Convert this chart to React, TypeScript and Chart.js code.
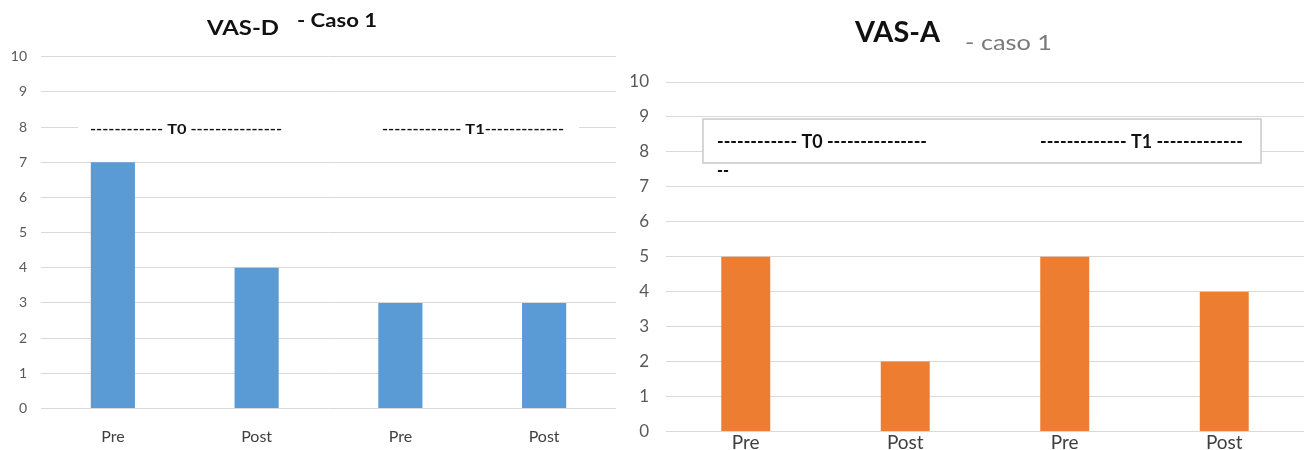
import { useEffect, useRef } from "react";
import { Chart, registerables } from "chart.js";

Chart.register(...registerables);
Chart.defaults.font.family = "Lato, 'Noto Sans', sans-serif";

// Category labels shared by both panels
const categories = ["Pre", "Post", "Pre", "Post"];

// VAS-D scores (caso 1)
const vasDValues = [7, 4, 3, 3];
// VAS-A scores (caso 1)
const vasAValues = [5, 2, 5, 4];

// Value axis range
const yMin = 0;
const yMax = 10;
const yStep = 1;

// Period markers written across the plot
const vasDPeriods = ["------------ T0 ---------------", "------------- T1-------------"];
const vasAPeriods = ["------------ T0 ---------------", "------------- T1 -------------", "--"];

// Draws a string stretched horizontally to a given width
function fitText(
  ctx: CanvasRenderingContext2D,
  text: string,
  x: number,
  baseline: number,
  width: number,
  font: string,
  color: string
) {
  ctx.save();
  ctx.font = font;
  ctx.fillStyle = color;
  ctx.textAlign = "left";
  ctx.textBaseline = "alphabetic";
  const w = ctx.measureText(text).width || 1;
  ctx.translate(x, baseline);
  ctx.scale(width / w, 1);
  ctx.fillText(text, 0, 0);
  ctx.restore();
}

type PanelSpec = {
  width: number;
  left: number;
  values: number[];
  color: string;
  padTop: number;
  padRight: number;
  yAxisWidth: number;
  yTickPadding: number;
  yTickSize: number;
  xAxisHeight: number;
  xTickPadding: number;
  xTickSize: number;
  overlay: (chart: Chart) => void;
};

const vasDSpec: PanelSpec = {
  width: 620,
  left: 0,
  values: vasDValues,
  color: "#5b9bd5",
  padTop: 56.7,
  padRight: 4,
  yAxisWidth: 41,
  yTickPadding: 14,
  yTickSize: 14,
  xAxisHeight: 41.5,
  xTickPadding: 19,
  xTickSize: 16,
  overlay: (chart) => {
    const ctx = chart.ctx;
    const y = chart.scales.y;
    const y8 = y.getPixelForValue(8);
    // blank text box hiding the gridline behind the period markers
    ctx.save();
    ctx.fillStyle = "#ffffff";
    ctx.fillRect(78, y8 - 12, 501, 25);
    ctx.restore();
    const f = "bold 14px Lato, sans-serif";
    fitText(ctx, vasDPeriods[0], 90, y8 + 6.5, 192, f, "#111111");
    fitText(ctx, vasDPeriods[1], 382, y8 + 6.5, 182, f, "#111111");
    // title
    fitText(ctx, "VAS-D", 207, 35, 72, "bold 21px Lato, sans-serif", "#111111");
    fitText(ctx, "- Caso 1", 297, 27, 80, "bold 18px Lato, sans-serif", "#111111");
  },
};

const vasASpec: PanelSpec = {
  width: 689,
  left: 620,
  values: vasAValues,
  color: "#ed7d31",
  padTop: 82,
  padRight: 5,
  yAxisWidth: 46,
  yTickPadding: 17,
  yTickSize: 17,
  xAxisHeight: 18.5,
  xTickPadding: 0,
  xTickSize: 19,
  overlay: (chart) => {
    const ctx = chart.ctx;
    // bordered text box holding the period markers
    ctx.save();
    ctx.fillStyle = "#ffffff";
    ctx.fillRect(83, 119, 558, 44);
    ctx.strokeStyle = "#c9c9c9";
    ctx.lineWidth = 1.5;
    ctx.strokeRect(83, 119, 558, 44);
    ctx.restore();
    const f = "bold 19px Lato, sans-serif";
    fitText(ctx, vasAPeriods[0], 97, 148, 210, f, "#111111");
    fitText(ctx, vasAPeriods[1], 420, 148, 203, f, "#111111");
    fitText(ctx, vasAPeriods[2], 97, 177, 12, f, "#111111");
    // title
    fitText(ctx, "VAS-A", 235, 42, 85, "bold 29px Lato, sans-serif", "#111111");
    fitText(ctx, "- caso 1", 345, 50, 87, "21px Lato, sans-serif", "#7a7a7a");
  },
};

function BarPanel({ spec }: { spec: PanelSpec }) {
  const ref = useRef<HTMLCanvasElement | null>(null);

  useEffect(() => {
    if (!ref.current) return;
    const chart = new Chart(ref.current, {
      type: "bar",
      data: {
        labels: categories,
        datasets: [
          {
            data: spec.values,
            backgroundColor: spec.color,
            borderWidth: 0,
            categoryPercentage: 1,
            barPercentage: 0.307,
          },
        ],
      },
      options: {
        responsive: false,
        animation: false,
        layout: {
          padding: { top: spec.padTop, right: spec.padRight, left: 0, bottom: 0 },
        },
        plugins: {
          legend: { display: false },
          tooltip: { enabled: false },
          title: { display: false },
        },
        scales: {
          x: {
            grid: { display: false, drawTicks: false },
            border: { display: false },
            ticks: {
              color: "#404040",
              font: { size: spec.xTickSize },
              padding: spec.xTickPadding,
              maxRotation: 0,
            },
            afterFit: (s: any) => {
              s.height = spec.xAxisHeight;
              s.paddingLeft = 0;
              s.paddingRight = 0;
            },
          },
          y: {
            min: yMin,
            max: yMax,
            grid: { color: "#d9d9d9", lineWidth: 1, drawTicks: false },
            border: { display: false },
            ticks: {
              stepSize: yStep,
              color: "#595959",
              font: { size: spec.yTickSize },
              padding: spec.yTickPadding,
            },
            afterFit: (s: any) => {
              s.width = spec.yAxisWidth;
              s.paddingTop = 0;
              s.paddingBottom = 0;
            },
          },
        },
      },
      plugins: [
        {
          id: "panelOverlay",
          afterDraw: (c: Chart) => spec.overlay(c),
        },
      ],
    });
    return () => chart.destroy();
  }, [spec]);

  return (
    <canvas
      ref={ref}
      width={spec.width}
      height={450}
      style={{ position: "absolute", left: spec.left, top: 0, width: spec.width, height: 450 }}
    />
  );
}

export default function App() {
  return (
    <div
      style={{
        position: "fixed",
        left: 0,
        top: 0,
        width: 1309,
        height: 450,
        background: "#ffffff",
        overflow: "hidden",
      }}
    >
      <BarPanel spec={vasDSpec} />
      <BarPanel spec={vasASpec} />
    </div>
  );
}
